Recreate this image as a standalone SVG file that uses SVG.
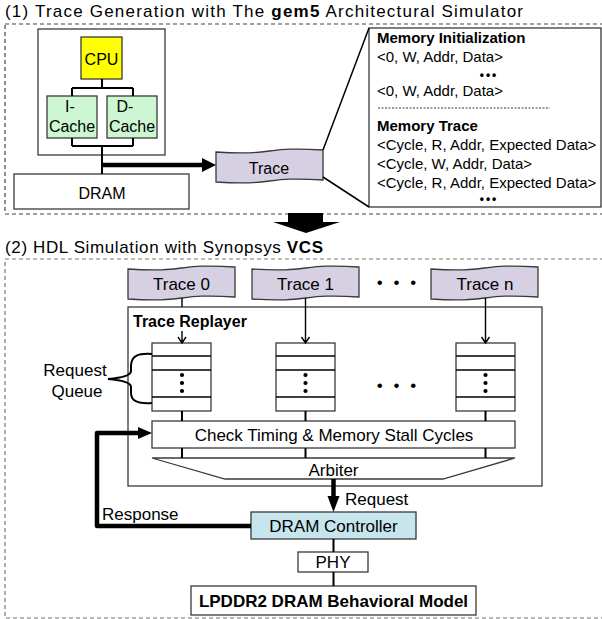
<svg xmlns="http://www.w3.org/2000/svg" width="602" height="619" viewBox="0 0 602 619">
<style>
text{font-family:"Liberation Sans",Arial,sans-serif;fill:#000}
.t{font-size:17px}
.m{font-size:15px}
.c{text-anchor:middle}
.b{font-weight:bold}
.box{fill:#fff;stroke:#3a3a3a;stroke-width:1.3}
.ln{stroke:#000;stroke-width:2;fill:none}
.thin{stroke:#000;stroke-width:1.4;fill:none}
.thick{stroke:#000;stroke-width:4.5;fill:none}
.dash1{fill:none;stroke:#444;stroke-width:1.2;stroke-dasharray:4 3}
.dash2{fill:none;stroke:#777;stroke-width:1.2;stroke-dasharray:4 3}
.tape{fill:#D7CFE2;stroke:#3a3a3a;stroke-width:1.3}
.dots{font-size:12px;font-weight:bold;text-anchor:middle;letter-spacing:2px}
</style>
<defs>
<path id="tp" d="M0,3 C59,7 48,-3 107,1 L107,31 C48,27 59,37 0,33 Z"/>
</defs>

<!-- Section frames -->
<rect class="dash1" x="5" y="24" width="600" height="190"/>
<rect class="dash2" x="5" y="259" width="600" height="359"/>
<text class="t" x="5" y="17" textLength="518" lengthAdjust="spacing">(1) Trace Generation with The <tspan class="b">gem5</tspan> Architectural Simulator</text>
<text class="t" x="5" y="253" textLength="318" lengthAdjust="spacing">(2) HDL Simulation with Synopsys <tspan class="b">VCS</tspan></text>

<!-- Section 1 nodes -->
<g id="system">
<rect class="box" x="38" y="29" width="127" height="126"/>
</g>
<g id="cpu">
<rect x="81" y="37" width="41" height="42" fill="#FFFF00" stroke="#3a3a3a" stroke-width="1.3"/>
<text class="c" x="101.5" y="65" font-size="16">CPU</text>
</g>
<g id="icache">
<rect x="47" y="96" width="50" height="42" fill="#CDF7D2" stroke="#3a3a3a" stroke-width="1.3"/>
<text class="c" x="70" y="112" font-size="16">I-</text>
<text class="c" x="72" y="132" font-size="16">Cache</text>
</g>
<g id="dcache">
<rect x="107" y="96" width="50" height="42" fill="#CDF7D2" stroke="#3a3a3a" stroke-width="1.3"/>
<text class="c" x="125" y="112" font-size="16">D-</text>
<text class="c" x="132" y="132" font-size="16">Cache</text>
</g>
<g id="dram1">
<rect class="box" x="14" y="174" width="175" height="35"/>
<text class="c" x="102" y="199" font-size="16">DRAM</text>
</g>
<g id="trace">
<use href="#tp" x="216" y="149" class="tape"/>
<text class="c" x="269" y="174" font-size="16">Trace</text>
</g>
<g id="memfile">
<rect class="box" x="369" y="28" width="232" height="179"/>
<text class="m b" x="377" y="43">Memory Initialization</text>
<text class="m" x="377" y="62">&lt;0, W, Addr, Data&gt;</text>
<text class="dots" x="489" y="79">•••</text>
<text class="m" x="377" y="96">&lt;0, W, Addr, Data&gt;</text>
<line x1="378" y1="108" x2="550" y2="108" stroke="#000" stroke-width="0.8" stroke-dasharray="2 1.5"/>
<text class="m b" x="377" y="131">Memory Trace</text>
<text class="m" x="377" y="150">&lt;Cycle, R, Addr, Expected Data&gt;</text>
<text class="m" x="377" y="169">&lt;Cycle, W, Addr, Data&gt;</text>
<text class="m" x="377" y="188">&lt;Cycle, R, Addr, Expected Data&gt;</text>
<text class="dots" x="489" y="203">•••</text>
</g>

<!-- Section 2 nodes -->
<g id="replayer">
<rect class="box" x="128" y="307" width="414" height="179"/>
<text class="b" x="133" y="327" font-size="16">Trace Replayer</text>
</g>
<g id="trace0">
<use href="#tp" x="128" y="266" class="tape"/>
<text class="t c" x="181.5" y="290">Trace 0</text>
</g>
<g id="trace1">
<use href="#tp" x="252" y="266" class="tape"/>
<text class="t c" x="305.5" y="290">Trace 1</text>
</g>
<g id="tracen">
<use href="#tp" x="431" y="266" class="tape"/>
<text class="t c" x="485" y="290">Trace n</text>
</g>
<text class="t c" x="398" y="288" letter-spacing="3">• • •</text>
<text class="t c" x="398" y="391" letter-spacing="3">• • •</text>

<g id="queue0">
<rect class="box" x="152" y="343" width="59" height="68"/>
<path class="thin" d="M152,356H211M152,370H211M152,397H211"/>
<circle cx="182" cy="375" r="2.1"/><circle cx="182" cy="383" r="2.1"/><circle cx="182" cy="391" r="2.1"/>
</g>
<g id="queue1">
<rect class="box" x="276" y="343" width="59" height="68"/>
<path class="thin" d="M276,356H335M276,370H335M276,397H335"/>
<circle cx="305.5" cy="375" r="2.1"/><circle cx="305.5" cy="383" r="2.1"/><circle cx="305.5" cy="391" r="2.1"/>
</g>
<g id="queuen">
<rect class="box" x="456" y="343" width="59" height="68"/>
<path class="thin" d="M456,356H515M456,370H515M456,397H515"/>
<circle cx="485.5" cy="375" r="2.1"/><circle cx="485.5" cy="383" r="2.1"/><circle cx="485.5" cy="391" r="2.1"/>
</g>
<g id="reqqueue">
<text class="t c" x="75" y="376">Request</text>
<text class="t c" x="77" y="397">Queue</text>
<path class="ln" d="M152,354 C138,353 131,356 131,366 L131,371 C131,376 120,378 108,379 C120,380 131,382 131,387 L131,393 C131,401 138,404 152,403"/>
</g>
<g id="check">
<rect class="box" x="152" y="421" width="363" height="27"/>
<text class="t c" x="334" y="441">Check Timing &amp; Memory Stall Cycles</text>
</g>
<g id="arbiter">
<polygon class="box" points="152,458 515,458 443,479 225,479"/>
<text class="t c" x="333.5" y="476">Arbiter</text>
</g>
<g id="controller">
<rect x="251" y="512" width="165" height="27" fill="#C6E5EC" stroke="#3a3a3a" stroke-width="1.3"/>
<text class="t c" x="333.5" y="532">DRAM Controller</text>
</g>
<g id="phy">
<rect class="box" x="298" y="552" width="70" height="20"/>
<text class="t c" x="333" y="568">PHY</text>
</g>
<g id="lpddr2">
<rect class="box" x="191" y="586" width="285" height="29"/>
<text class="t c b" x="333.5" y="607">LPDDR2 DRAM Behavioral Model</text>
</g>

<!-- Connectors -->
<g id="connectors">
<path class="ln" d="M102,79V88M72,88H133M72,88V96M133,88V96M72,138V146M133,138V146M72,146H133M102,146V174"/>
<path class="thick" d="M102,165H204"/>
<polygon points="202,158 216,165 202,172"/>
<path stroke="#000" stroke-width="1.5" fill="none" d="M323,150 L369,28 M323,177 L369,207"/>
<polygon points="288,213 323,213 323,222 340,222 306,233 273,222 288,222"/>

<path class="thin" d="M182,298V307M182,331V342M178,337L182,343L186,337"/>
<path class="thin" d="M305.5,298V342M301.5,337L305.5,343L309.5,337"/>
<path class="thin" d="M485.5,298V342M481.5,337L485.5,343L489.5,337"/>
<path class="ln" d="M182,411V421M305.5,411V421M485.5,411V421M182,448V458M305.5,448V458M485.5,448V458"/>
<path class="ln" d="M333.5,539V552M333.5,572V586"/>

<path class="thick" d="M333.5,479V498"/>
<polygon points="327.5,496 339.5,496 333.5,512"/>
<text class="t" x="345" y="505">Request</text>
<path class="thick" stroke-linejoin="round" d="M251,526H97V433H140"/>
<polygon points="138,427 152,433 138,439"/>
<text class="t" x="102" y="520">Response</text>
</g>
</svg>
